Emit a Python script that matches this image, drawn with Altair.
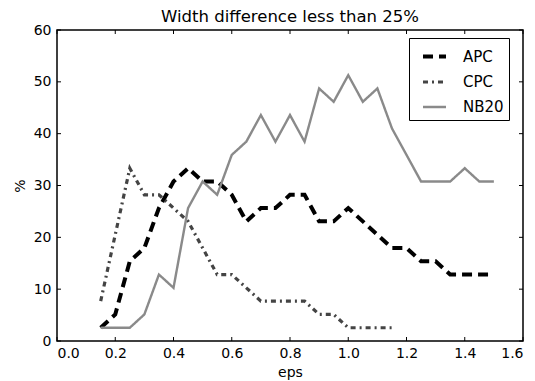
import altair as alt
import pandas as pd

# ---- data ----
series = ["APC", "CPC", "NB20"]
eps = [0.15, 0.20, 0.25, 0.30, 0.35, 0.40, 0.45, 0.50, 0.55, 0.60,
       0.65, 0.70, 0.75, 0.80, 0.85, 0.90, 0.95, 1.00, 1.05, 1.10,
       1.15, 1.20, 1.25, 1.30, 1.35, 1.40, 1.45, 1.50]
apc = [2.56, 5.13, 15.38, 17.95, 25.64, 30.77, 33.33, 30.77, 30.77, 28.21,
       23.08, 25.64, 25.64, 28.21, 28.21, 23.08, 23.08, 25.64, 23.08, 20.51,
       17.95, 17.95, 15.38, 15.38, 12.82, 12.82, 12.82, 12.82]
cpc = [7.69, 20.51, 33.33, 28.21, 28.21, 25.64, 23.08, 17.95, 12.82, 12.82,
       10.26, 7.69, 7.69, 7.69, 7.69, 5.13, 5.13, 2.56, 2.56, 2.56, 2.56]
nb20 = [2.56, 2.56, 2.56, 5.13, 12.82, 10.26, 25.64, 30.77, 28.21, 35.90,
        38.46, 43.59, 38.46, 43.59, 38.46, 48.72, 46.15, 51.28, 46.15, 48.72,
        41.03, 35.90, 30.77, 30.77, 30.77, 33.33, 30.77, 30.77]
x_ticks = [0.0, 0.2, 0.4, 0.6, 0.8, 1.0, 1.2, 1.4, 1.6]
y_ticks = [0, 10, 20, 30, 40, 50, 60]

rows = []
for name, vals in zip(series, [apc, cpc, nb20]):
    for i, v in enumerate(vals):
        rows.append({"series": name, "eps": eps[i], "pct": v, "idx": i})
df = pd.DataFrame(rows)

W, H = 466, 311
FONT = "DejaVu Sans"
TL = 4  # inward tick length

xscale = alt.Scale(domain=[0, 1.6], nice=False, zero=False)
yscale = alt.Scale(domain=[0, 60], nice=False)

legend = alt.Legend(
    title=None, orient="none", legendX=352, legendY=8,
    strokeColor="black", fillColor="white", padding=5, cornerRadius=0,
    symbolType="stroke", symbolSize=529, symbolOffset=7, labelOffset=15,
    rowPadding=3.5, labelFontSize=15, labelFont=FONT, labelColor="black",
)

xaxis = alt.Axis(values=x_ticks, format=".1f", title="eps", grid=False,
                 ticks=False, tickSize=0, domain=False, labelPadding=5.5,
                 labelFontSize=14, titleFontSize=14, titlePadding=5,
                 labelFont=FONT, titleFont=FONT, titleFontWeight="normal",
                 labelColor="black", titleColor="black")
yaxis = alt.Axis(values=y_ticks, title="%", grid=False, ticks=False, tickSize=0,
                 domain=False, labelPadding=6, labelFontSize=14,
                 titleFontSize=14, titlePadding=6, labelFont=FONT,
                 titleFont=FONT, titleFontWeight="normal",
                 labelColor="black", titleColor="black")

lines = alt.Chart(df).mark_line().encode(
    x=alt.X("eps:Q", scale=xscale, axis=xaxis),
    y=alt.Y("pct:Q", scale=yscale, axis=yaxis),
    color=alt.Color("series:N", scale=alt.Scale(domain=series, range=["#000000", "#444444", "#8a8a8a"]), legend=legend),
    strokeDash=alt.StrokeDash("series:N", scale=alt.Scale(domain=series, range=[[10, 6], [5, 4, 2, 4], [1, 0]]), legend=legend),
    strokeWidth=alt.StrokeWidth("series:N", scale=alt.Scale(domain=series, range=[4.0, 2.4, 1.4]), legend=legend),
    order="idx:Q",
)

xt = pd.DataFrame({"eps": x_ticks})
yt = pd.DataFrame({"pct": y_ticks})
tick_style = dict(color="black", strokeWidth=1)
bottom = alt.Chart(xt).mark_rule(**tick_style).encode(
    x=alt.X("eps:Q", axis=xaxis), y=alt.value(H), y2=alt.value(H - TL))
top = alt.Chart(xt).mark_rule(**tick_style).encode(
    x=alt.X("eps:Q", axis=xaxis), y=alt.value(0), y2=alt.value(TL))
left = alt.Chart(yt).mark_rule(**tick_style).encode(
    y=alt.Y("pct:Q", axis=yaxis), x=alt.value(0), x2=alt.value(TL))
right = alt.Chart(yt).mark_rule(**tick_style).encode(
    y=alt.Y("pct:Q", axis=yaxis), x=alt.value(W), x2=alt.value(W - TL))

chart = alt.layer(lines, bottom, top, left, right).properties(
    width=W, height=H,
    title=alt.TitleParams("Width difference less than 25%", fontSize=16.5, font=FONT,
                          fontWeight="normal", color="black", offset=-2),
    padding={"left": 5, "top": 0, "right": 0, "bottom": 0},
).configure_view(stroke="black", strokeWidth=1.5)

chart.save("out.html", embed_options={"renderer": "svg", "actions": False})
